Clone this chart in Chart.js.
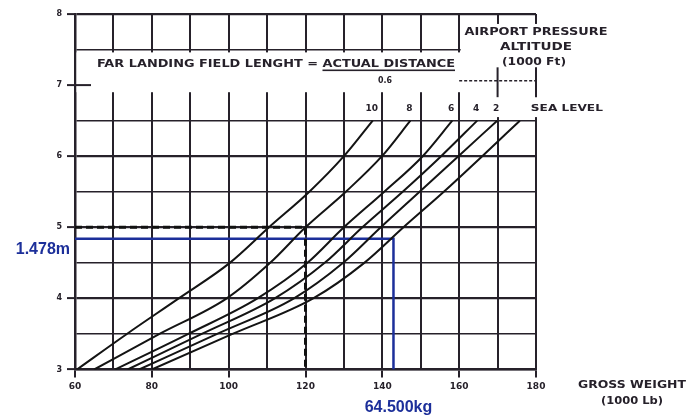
<!DOCTYPE html>
<html>
<head>
<meta charset="utf-8">
<script src="https://cdn.jsdelivr.net/npm/chart.js@4.4.1/dist/chart.umd.min.js"></script>
<style>
  html, body { margin: 0; padding: 0; background: #fff; }
  #wrap { width: 686px; height: 418px; position: relative; }
</style>
</head>
<body>
<div id="wrap"><canvas id="myChart"></canvas></div>
<script>
// landing field length (1000 ft) at which each curve was read
const fieldLength = [3.0, 3.5, 4.0, 4.5, 5.0, 5.5, 6.0, 6.5];
// gross weight (1000 lb) for each airport pressure altitude curve
const alt10 = [60.5, 73.5, 87, 100.3, 110.5, 121, 130, 137.5];
const alt8 = [65, 82, 99.5, 110.8, 120, 130.5, 139.9, 147.3];
const alt6 = [70.5, 89.5, 107.5, 120.5, 130, 140.5, 150.5, 158.2];
const alt4 = [73.7, 93, 112, 125, 134.8, 145.3, 155.3, 164.7];
const alt2 = [76.7, 97, 117, 129.8, 139.6, 149.7, 159.8, 169.9];
const altSea = [80, 101, 122, 135.3, 145.5, 156, 166, 175.8];
const curveLabels = ['10', '8', '6', '4', '2', 'SEA LEVEL'];

// example lookup (dashed) and the blue reading
const exampleWeight = [60, 120, 120];
const exampleLength = [5, 5, 3];
const readWeight = [60, 142.9, 142.9];
const readLength = [4.84, 4.84, 3];

const INK = '#26212a';
const BLUE = '#1c2f9a';

const toPoints = (xs, ys) => xs.map((v, i) => ({x: v, y: ys[i]}));

const curves = [alt10, alt8, alt6, alt4, alt2, altSea];
const datasets = curves.map((c, i) => ({
  label: curveLabels[i],
  data: toPoints(c, fieldLength),
  borderColor: '#141414',
  borderWidth: 2,
  pointRadius: 0,
  cubicInterpolationMode: 'monotone',
  fill: false
}));

datasets.push({
  label: 'example',
  data: toPoints(exampleWeight, exampleLength),
  borderColor: '#111',
  borderWidth: 3,
  borderDash: [7, 4],
  pointRadius: 0,
  tension: 0
});
datasets.push({
  label: 'reading',
  data: toPoints(readWeight, readLength),
  borderColor: BLUE,
  borderWidth: 2.5,
  pointRadius: 0,
  tension: 0
});

// fit a string into a given width by stretching it horizontally
function fitText(ctx, text, cx, cy, w) {
  const m = ctx.measureText(text).width;
  ctx.save();
  ctx.translate(cx, cy);
  ctx.scale(w / m, 1);
  ctx.textAlign = 'center';
  ctx.textBaseline = 'middle';
  ctx.fillText(text, 0, 0);
  ctx.restore();
  return w / m;
}

const chartNotes = {
  id: 'chartNotes',
  beforeDatasetsDraw(chart) {
    const {ctx, scales: {x, y}} = chart;
    ctx.save();
    ctx.fillStyle = '#fff';
    // band for the title, vertical lines are broken there
    ctx.fillRect(x.getPixelForValue(60) + 1.5, y.getPixelForValue(7.46),
      x.getPixelForValue(160) - x.getPixelForValue(60), y.getPixelForValue(6.9) - y.getPixelForValue(7.46));
    // box for the altitude caption
    ctx.fillRect(x.getPixelForValue(160) + 1.5, y.getPixelForValue(7.86),
      x.getPixelForValue(180) - x.getPixelForValue(160) + 2, y.getPixelForValue(6.55) - y.getPixelForValue(7.86));

    ctx.strokeStyle = INK;
    ctx.lineWidth = 2;
    // short tick at 7
    ctx.beginPath();
    ctx.moveTo(x.getPixelForValue(60), y.getPixelForValue(7));
    ctx.lineTo(x.getPixelForValue(60) + 16, y.getPixelForValue(7));
    ctx.stroke();
    // stubs at 170 / 180
    [170, 180].forEach(v => {
      ctx.beginPath();
      ctx.moveTo(x.getPixelForValue(v), y.getPixelForValue(7.25));
      ctx.lineTo(x.getPixelForValue(v), y.getPixelForValue(6.83));
      ctx.stroke();
    });
    ctx.lineWidth = 1.5;
    ctx.setLineDash([3, 2]);
    ctx.beginPath();
    ctx.moveTo(x.getPixelForValue(160), y.getPixelForValue(7.06));
    ctx.lineTo(x.getPixelForValue(180), y.getPixelForValue(7.06));
    ctx.stroke();
    ctx.restore();
  },
  afterDraw(chart) {
    const {ctx, scales: {x, y}} = chart;
    ctx.save();
    ctx.fillStyle = INK;
    ctx.font = 'bold 10px "DejaVu Sans"';

    // title with the fraction bar
    const head = 'FAR LANDING FIELD LENGHT = ';
    const full = head + 'ACTUAL DISTANCE';
    const tl = 97, tr = 455, ty = 64;
    const sx = fitText(ctx, full, (tl + tr) / 2, ty, tr - tl);
    const ul = tl + ctx.measureText(head).width * sx;
    ctx.fillRect(ul, ty + 5.5, tr - ul, 1.6);
    ctx.font = 'bold 9px "DejaVu Sans"';
    fitText(ctx, '0.6', 385, 81, 14);

    // airport pressure altitude caption
    ctx.font = 'bold 10px "DejaVu Sans"';
    fitText(ctx, 'AIRPORT PRESSURE', 536, 32, 143);
    fitText(ctx, 'ALTITUDE', 536, 47, 72);
    fitText(ctx, '(1000 Ft)', 534, 62, 64);

    // curve labels above the ends
    ctx.font = 'bold 9px "DejaVu Sans"';
    const topY = y.getPixelForValue(fieldLength[fieldLength.length - 1]) - 12;
    curves.forEach((c, i) => {
      const px = x.getPixelForValue(c[c.length - 1]);
      if (i < curves.length - 1) {
        ctx.textAlign = 'center';
        ctx.textBaseline = 'middle';
        ctx.fillText(curveLabels[i], px - 1, topY);
      } else {
        fitText(ctx, curveLabels[i], px + 47, topY, 72);
      }
    });

    // x axis title
    ctx.font = 'bold 10px "DejaVu Sans"';
    fitText(ctx, 'GROSS WEIGHT', 632, 385, 108);
    fitText(ctx, '(1000 Lb)', 632, 401, 62);

    // blue readings
    ctx.fillStyle = BLUE;
    ctx.font = 'bold 16px "Liberation Sans"';
    ctx.textAlign = 'right';
    ctx.textBaseline = 'middle';
    ctx.fillText('1.478m', 70, y.getPixelForValue(readLength[0]) + 11);
    ctx.textAlign = 'center';
    ctx.fillText('64.500kg', x.getPixelForValue(readWeight[1]) + 5, 408);
    ctx.restore();
  }
};

const config = {
  type: 'line',
  data: {datasets},
  options: {
    responsive: true,
    maintainAspectRatio: false,
    animation: false,
    layout: {padding: {left: 0, right: 150, top: 14, bottom: 0}},
    scales: {
      x: {
        type: 'linear',
        min: 60,
        max: 180,
        afterFit(scale) { scale.height = 48.5; },
        border: {color: INK, width: 2.5},
        grid: {
          color: INK,
          lineWidth: 2,
          tickLength: 8,
          tickColor: c => (c.tick && c.tick.value % 20 === 0) ? INK : 'rgba(0,0,0,0)',
          tickWidth: 2
        },
        ticks: {
          stepSize: 10,
          autoSkip: false,
          maxRotation: 0,
          padding: 4,
          color: INK,
          font: {family: 'DejaVu Sans', size: 9, weight: 'bold'},
          callback: v => v % 20 === 0 ? String(v) : ''
        }
      },
      y: {
        type: 'linear',
        min: 3,
        max: 8,
        afterFit(scale) { scale.width = 75; },
        border: {color: INK, width: 2.5},
        grid: {
          color: c => (c.tick && c.tick.value === 7) ? 'rgba(0,0,0,0)' : INK,
          lineWidth: c => (c.tick && Number.isInteger(c.tick.value)) ? 2.2 : 1.6,
          tickLength: 8,
          tickColor: c => (c.tick && Number.isInteger(c.tick.value)) ? INK : 'rgba(0,0,0,0)',
          tickWidth: 2
        },
        ticks: {
          stepSize: 0.5,
          autoSkip: false,
          padding: 5,
          color: INK,
          font: {family: 'DejaVu Sans', size: 8, weight: 'bold'},
          callback: v => Number.isInteger(v) ? String(v) : ''
        }
      }
    },
    plugins: {
      legend: {display: false},
      tooltip: {enabled: false}
    }
  },
  plugins: [chartNotes]
};

const myChart = new Chart(document.getElementById('myChart'), config);
</script>
</body>
</html>
